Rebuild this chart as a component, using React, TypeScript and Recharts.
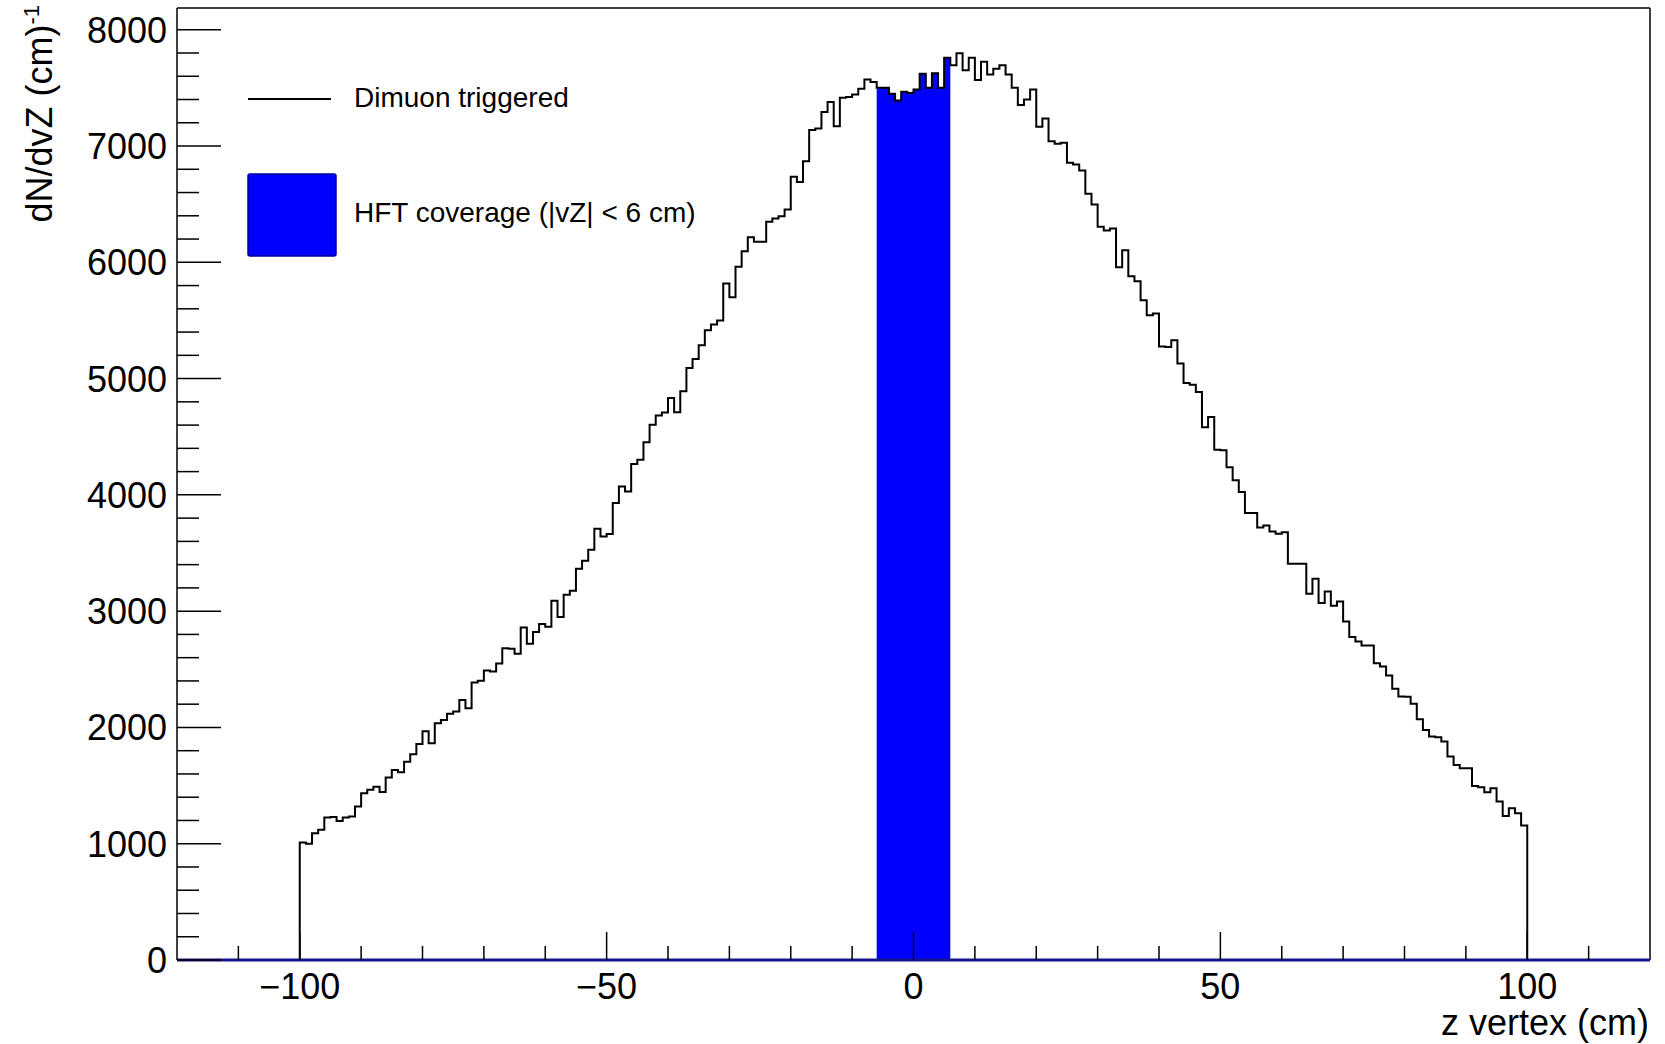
import { ComposedChart, Line, Area, XAxis, YAxis, ReferenceLine, Legend } from "recharts";

const FONT = '"Liberation Sans", Arial, Helvetica, sans-serif';

// dimuon triggered events per 1 cm bin of z vertex, bins start at -100 cm
const firstBinEdge = -100;

const countsNeg100toNeg51 = [
  1010, 1000, 1090, 1120, 1225, 1230, 1195, 1225, 1235, 1320,
  1435, 1465, 1490, 1445, 1570, 1635, 1615, 1705, 1770, 1858,
  1968, 1865, 2037, 2065, 2117, 2137, 2237, 2166, 2387, 2401,
  2490, 2482, 2550, 2682, 2677, 2633, 2860, 2719, 2820, 2889,
  2866, 3090, 2950, 3141, 3175, 3365, 3434, 3528, 3709, 3643,
];
const countsNeg50toNeg1 = [
  3664, 3930, 4073, 4030, 4266, 4303, 4452, 4604, 4682, 4708,
  4834, 4710, 4891, 5092, 5169, 5287, 5416, 5465, 5499, 5818,
  5700, 5961, 6096, 6216, 6176, 6176, 6348, 6377, 6397, 6454,
  6735, 6690, 6870, 7137, 7151, 7292, 7378, 7171, 7415, 7421,
  7444, 7493, 7573, 7550, 7501, 7501, 7450, 7392, 7467, 7457,
];
const counts0to49 = [
  7487, 7622, 7501, 7625, 7501, 7760, 7694, 7797, 7651, 7760,
  7567, 7725, 7616, 7665, 7694, 7616, 7501, 7352, 7401, 7487,
  7165, 7237, 7042, 7020, 7028, 6856, 6842, 6790, 6589, 6497,
  6305, 6274, 6291, 5958, 6104, 5881, 5837, 5674, 5545, 5559,
  5275, 5272, 5330, 5129, 4963, 4948, 4885, 4581, 4670, 4389,
];
const counts50to99 = [
  4383, 4237, 4125, 4025, 3844, 3844, 3720, 3737, 3686, 3665,
  3678, 3408, 3408, 3408, 3150, 3279, 3070, 3170, 3046, 3084,
  2912, 2777, 2740, 2705, 2705, 2553, 2525, 2447, 2332, 2266,
  2263, 2203, 2071, 1979, 1922, 1916, 1879, 1750, 1678, 1650,
  1650, 1497, 1486, 1443, 1477, 1363, 1239, 1305, 1262, 1156,
];

const hftLow = -6;
const hftHigh = 6;

const xTicks = [-110, -100, -90, -80, -70, -60, -50, -40, -30, -20, -10, 0, 10, 20, 30, 40, 50, 60, 70, 80, 90, 100, 110];
const xMajorTicks = [-100, -50, 0, 50, 100];
const yMajorTicks = [0, 1000, 2000, 3000, 4000, 5000, 6000, 7000, 8000];
const yMax = 8187;

const dimuonCounts = [...countsNeg100toNeg51, ...countsNeg50toNeg1, ...counts0to49, ...counts50to99];

interface Row {
  z: number;
  n: number;
  hft?: number;
}

const rows: Row[] = [{ z: firstBinEdge, n: 0 }];
dimuonCounts.forEach((n, i) => {
  const z = firstBinEdge + i;
  let hft: number | undefined = undefined;
  if (z >= hftLow && z < hftHigh) hft = n;
  if (z === hftHigh) hft = dimuonCounts[i - 1]; // closes the last HFT bin
  rows.push({ z, n, hft });
});
rows.push({ z: firstBinEdge + dimuonCounts.length, n: 0 });

// minor ticks every 200 on y
const yTicks: number[] = [];
for (let v = 0; v <= 8000; v += 200) yTicks.push(v);

const fmtMinus = (v: number) => String(v).replace("-", "\u2212");

const XTick = (props: any) => {
  const { x, y, payload } = props;
  const major = xMajorTicks.includes(payload.value);
  return (
    <g>
      <line x1={x} x2={x} y1={y} y2={y - (major ? 28 : 14)} stroke="#000" strokeWidth={1.5} />
      {major && (
        <text x={x} y={y + 39} textAnchor="middle" fontSize={36} fontFamily={FONT} fill="#000">
          {fmtMinus(payload.value)}
        </text>
      )}
    </g>
  );
};

const YTick = (props: any) => {
  const { x, y, payload } = props;
  const major = yMajorTicks.includes(payload.value);
  return (
    <g>
      <line x1={x} x2={x + (major ? 44 : 22)} y1={y} y2={y} stroke="#000" strokeWidth={1.5} />
      {major && (
        <text x={x - 10} y={y + 13} textAnchor="end" fontSize={36} fontFamily={FONT} fill="#000">
          {payload.value}
        </text>
      )}
    </g>
  );
};

const renderLegend = () => (
  <svg width={720} height={280} style={{ display: "block" }}>
    <line x1={248} x2={331} y1={99} y2={99} stroke="#000" strokeWidth={2} />
    <text x={354} y={107} fontSize={28} fontFamily={FONT} fill="#000">
      Dimuon triggered
    </text>
    <rect x={248} y={174} width={88} height={82} rx={2} fill="#0000ff" stroke="#00009a" strokeWidth={1.5} />
    <text x={354} y={222} fontSize={28} fontFamily={FONT} fill="#000">
      HFT coverage (|vZ| &lt; 6 cm)
    </text>
  </svg>
);

const YTitle = () => (
  <text transform="translate(52, 5) rotate(-90)" textAnchor="end" fontSize={36} fontFamily={FONT} fill="#000">
    dN/dvZ (cm)
    <tspan dy={-13} fontSize={22}>
      -1
    </tspan>
  </text>
);

export default function App() {
  return (
    <div style={{ position: "absolute", left: 0, top: 0, width: 1665, height: 1044, background: "#fff" }}>
      <ComposedChart width={1665} height={1044} data={rows} margin={{ top: 8, right: 15, bottom: 0, left: 0 }}>
        <XAxis
          dataKey="z"
          type="number"
          domain={[-120, 120]}
          allowDataOverflow
          ticks={xTicks}
          interval={0}
          height={84}
          tickSize={0}
          tickMargin={0}
          tick={<XTick />}
          axisLine={{ stroke: "#16168a", strokeWidth: 3 }}
          tickLine={false}
        />
        <YAxis
          type="number"
          domain={[0, yMax]}
          allowDataOverflow
          ticks={yTicks}
          interval={0}
          width={177}
          tickSize={0}
          tickMargin={0}
          tick={<YTick />}
          axisLine={{ stroke: "#000", strokeWidth: 1.5 }}
          tickLine={false}
          label={{ content: () => <YTitle /> }}
        />
        <Area
          type="stepAfter"
          dataKey="hft"
          fill="#0000ff"
          fillOpacity={1}
          stroke="#0000b0"
          strokeWidth={1}
          isAnimationActive={false}
        />
        <Line type="stepAfter" dataKey="n" stroke="#000" strokeWidth={2} dot={false} isAnimationActive={false} />
        <ReferenceLine y={yMax} stroke="#000" strokeWidth={1.5} />
        <ReferenceLine x={120} stroke="#000" strokeWidth={1.5} />
        <Legend
          layout="vertical"
          align="center"
          verticalAlign="middle"
          content={renderLegend}
          wrapperStyle={{ left: 0, top: 0, width: 720, height: 280 }}
        />
        <text x={1649} y={1035} textAnchor="end" fontSize={36} fontFamily={FONT} fill="#000">
          z vertex (cm)
        </text>
      </ComposedChart>
    </div>
  );
}
